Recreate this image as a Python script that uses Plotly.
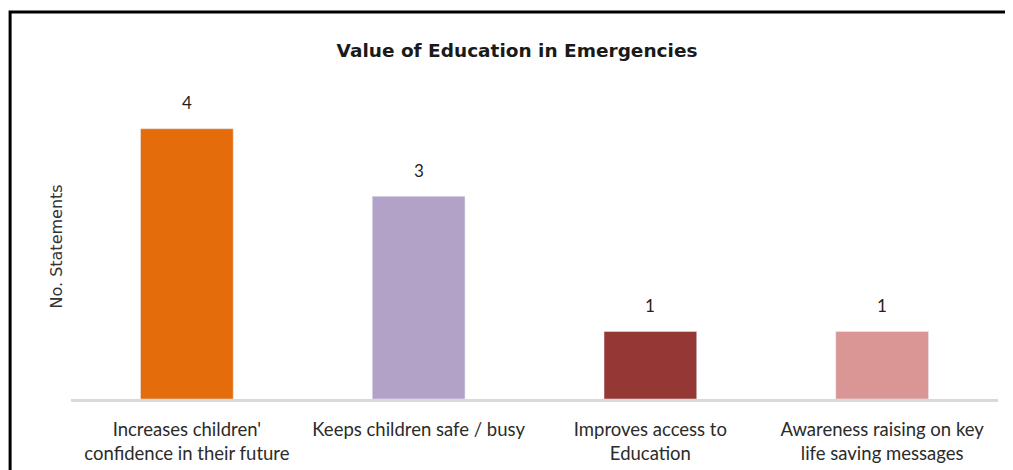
import plotly.graph_objects as go

# Données
categories = [
    "Increases children'<br>confidence in their future",
    "Keeps children safe / busy",
    "Improves access to<br>Education",
    "Awareness raising on key<br>life saving messages",
]
counts = [4, 3, 1, 1]
bar_colors = ["#E46C0A", "#B3A2C7", "#953735", "#D99694"]

fig = go.Figure()
fig.add_trace(go.Bar(x=categories, y=counts, marker_color=bar_colors, width=0.4))

# Étiquettes de valeur au-dessus des barres
for c, v in zip(categories, counts):
    fig.add_annotation(x=c, y=v, text=str(v), showarrow=False, yanchor="middle", yshift=26,
                       font=dict(size=17, color="#1f1f1f", family="Lato, sans-serif"))

fig.update_layout(
    width=1013, height=470,
    margin=dict(l=62.5, r=22.5, t=87, b=79),
    paper_bgcolor="white", plot_bgcolor="white",
    font=dict(family="Lato, Carlito, sans-serif", color="#262626"),
    title=dict(text="<b>Value of Education in Emergencies</b>", x=0.5025, xref="container",
               y=0.9085, yref="container", xanchor="center", yanchor="middle",
               font=dict(size=18.5, color="#1a1a1a", family="DejaVu Sans")),
    showlegend=False,
)
fig.update_xaxes(showline=True, linecolor="#d9d9d9", linewidth=3, ticks="",
                 ticklabelstandoff=12, tickfont=dict(size=18.5, color="#2b2b2b"))
fig.update_yaxes(range=[0, 4.5], visible=False)

# Titre de l'axe des y
fig.add_annotation(text="No. Statements", textangle=-90, x=-0.0167, y=0.5,
                   xref="paper", yref="paper", xanchor="center", yanchor="middle",
                   showarrow=False,
                   font=dict(size=16, color="#333333", family="DejaVu Sans"))

# Cadre noir autour du graphique
fig.add_shape(type="rect", xref="paper", yref="paper",
              x0=-0.0657, x1=1.03, y0=-0.3, y1=1.273,
              line=dict(color="black", width=3))

fig.write_html("out.html")
